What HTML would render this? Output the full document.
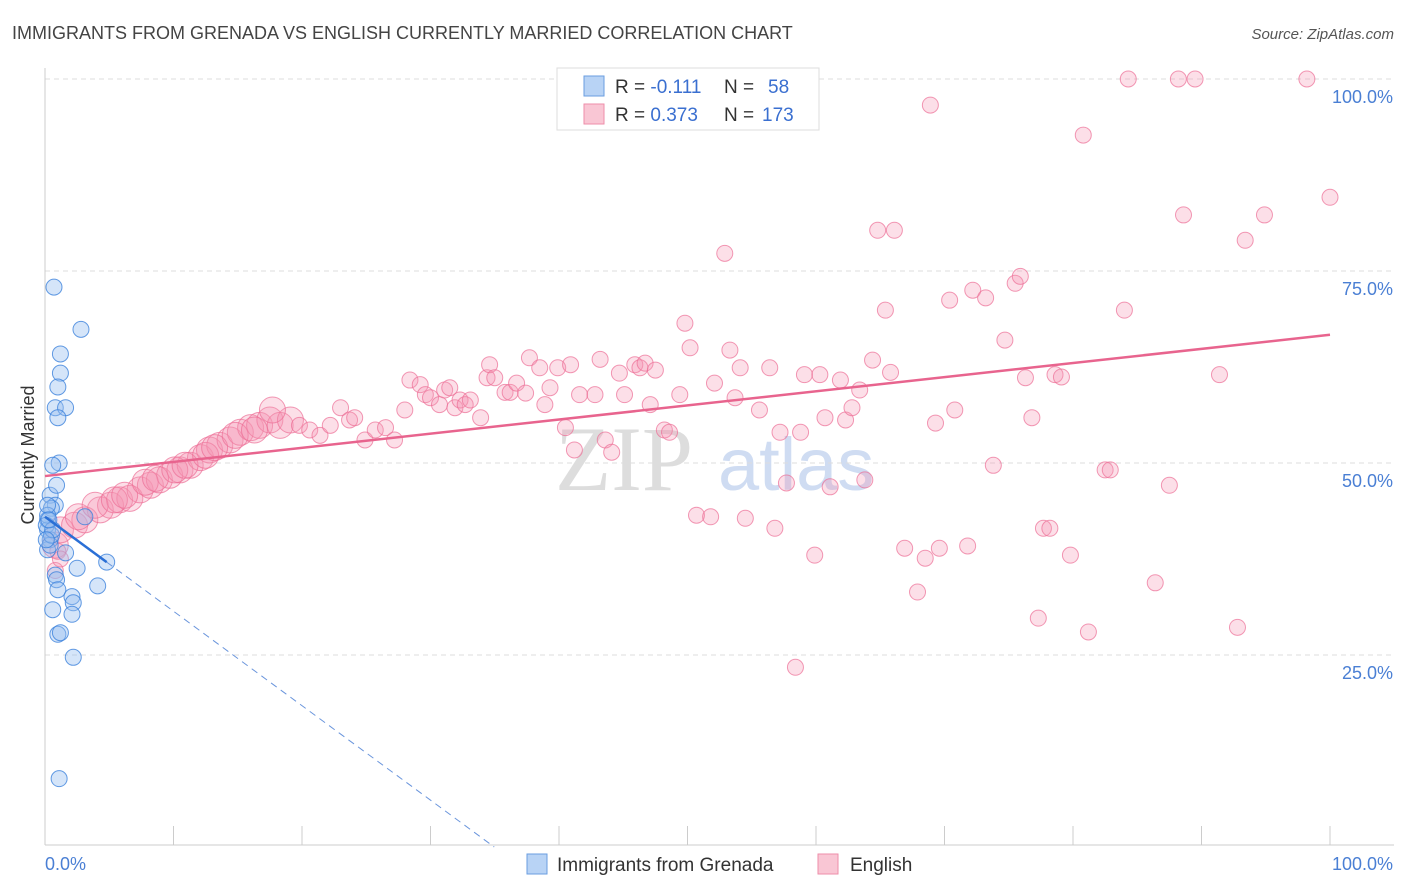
<!DOCTYPE html>
<html><head><meta charset="utf-8">
<style>
body{margin:0;background:#fff;font-family:"Liberation Sans",sans-serif;}
#c{position:relative;width:1406px;height:892px;overflow:hidden;}
</style></head><body>
<div id="c">
<svg id="s" width="1406" height="892" xmlns="http://www.w3.org/2000/svg">
<text x="12" y="39" font-size="18" fill="#444">IMMIGRANTS FROM GRENADA VS ENGLISH CURRENTLY MARRIED CORRELATION CHART</text>
<text x="1394" y="39" font-size="15" fill="#555" font-style="italic" text-anchor="end">Source: ZipAtlas.com</text>
<text x="555" y="490" font-size="92" fill="#ddd" font-family="Liberation Serif,serif">ZIP</text>
<text x="718" y="490" font-size="74" fill="#cfdcf2">atlas</text>
<g id="grid"></g>
<g id="axes"></g>
<g id="pts"></g>
<g id="trend"></g>
<text transform="translate(34,455) rotate(-90)" font-size="18" fill="#333" text-anchor="middle">Currently Married</text>
<g>
<rect x="557" y="68" width="262" height="62" fill="#fff" stroke="#ddd"/>
<rect x="584" y="76" width="20" height="20" fill="#b8d3f5" stroke="#6a9ee0"/>
<rect x="584" y="104" width="20" height="20" fill="#f9c6d4" stroke="#ee8eaa"/>
<text x="615" y="93" font-size="19" fill="#333">R = <tspan fill="#3a6fd0">-0.111</tspan><tspan x="724">N = </tspan><tspan x="768" fill="#3a6fd0">58</tspan></text>
<text x="615" y="121" font-size="19" fill="#333">R = <tspan fill="#3a6fd0">0.373</tspan><tspan x="724">N = </tspan><tspan x="762" fill="#3a6fd0">173</tspan></text>
</g>
<g>
<rect x="527" y="854" width="20" height="20" fill="#b8d3f5" stroke="#6a9ee0"/>
<text x="557" y="871" font-size="19" fill="#333">Immigrants from Grenada</text>
<rect x="818" y="854" width="20" height="20" fill="#f9c6d4" stroke="#ee8eaa"/>
<text x="850" y="871" font-size="19" fill="#333">English</text>
</g>
</svg>
</div>
<script>
const yTicks=[25,50,75,100];
const yTickLabels=["25.0%","50.0%","75.0%","100.0%"];
const xTicks=[0,10,20,30,40,50,60,70,80,90,100];
const xEndLabels=["0.0%","100.0%"];
const blueX=[0.7,2.8,1.2,1.2,1.0,0.8,1.6,1.0,1.1,0.6,0.4,0.9,0.8,0.5,0.2,0.2,0.4,0.2,1.6,3.1,0.8,0.9,2.5,4.8,4.1,1.0,2.1,2.2,2.1,0.6,1.0,1.2,2.2,1.1,0.2,0.1,0.4,0.5,0.2,0.6,0.1,0.3];
const blueY=[72.9,67.4,64.2,61.7,59.9,57.2,57.2,55.9,50.0,49.7,45.8,47.1,44.5,44.1,42.6,41.3,40.0,38.7,38.3,43.0,35.4,34.8,36.3,37.1,34.0,33.5,32.6,31.8,30.3,30.9,27.7,27.9,24.7,8.9,43.2,41.9,39.3,40.6,44.5,41.3,40.0,42.6];
const pinkX=[0.8,1.2,2.3,3.1,4.3,5.1,5.8,6.6,7.4,8.2,8.9,9.7,10.5,11.3,12.1,12.8,13.6,14.4,15.2,16.0,16.7,17.5,18.3,19.1,2.6,3.9,5.4,6.2,7.8,8.6,10.1,10.9,12.5,13.2,14.8,16.3,17.7,19.8,20.6,21.4,22.2,23.0,23.7,24.1,24.9,25.7,26.5,27.2,28.0,28.4,29.2,29.6,30.0,30.7,31.1,31.5,31.9,32.3,32.7,33.1,33.9,34.4,34.6,35.0,35.8,36.2,36.7,37.4,37.7,38.5,38.9,39.3,39.9,40.5,40.9,41.2,41.6,42.8,43.2,43.6,44.1,44.7,45.1,45.9,46.3,46.7,47.1,47.5,48.2,48.6,49.4,49.8,50.2,50.7,51.8,52.1,52.9,53.3,53.7,54.1,54.5,55.6,56.4,56.8,57.2,57.7,58.4,58.8,59.1,59.9,60.3,60.7,61.1,61.9,62.3,62.8,63.4,63.8,64.4,64.8,65.4,65.8,66.1,66.9,67.9,68.5,68.9,69.3,69.6,70.4,70.8,71.8,72.2,73.2,73.8,74.7,75.5,75.9,76.3,76.8,77.3,77.7,78.2,78.6,79.1,79.8,80.8,81.2,82.5,82.9,84.0,84.3,86.4,87.5,88.2,88.6,89.5,91.4,92.8,93.4,94.9,98.2,100,0.8,1.0,1.2];
const pinkY=[39.3,41.3,41.9,42.6,43.9,44.5,45.2,45.4,46.5,47.1,47.8,48.4,49.1,49.7,50.7,51.7,52.3,53.0,54.0,54.6,54.9,55.6,54.9,55.6,43.0,44.5,45.2,45.8,47.5,48.0,49.1,49.7,51.0,52.0,53.6,54.3,56.9,54.9,54.3,53.6,54.9,57.2,55.6,55.9,53.0,54.3,54.6,53.0,56.9,60.8,60.2,58.9,58.5,57.6,59.5,59.8,57.2,58.2,57.6,58.2,55.9,61.1,62.8,61.1,59.2,59.2,60.4,59.1,63.7,62.4,57.6,59.8,62.4,54.6,62.8,51.7,58.9,58.9,63.5,53.0,51.4,61.7,58.9,62.8,62.4,63.0,57.6,62.1,54.3,54.0,58.9,68.2,65.0,43.2,43.0,60.4,77.3,64.7,58.5,62.4,42.8,56.9,62.4,41.5,54.0,47.4,23.4,54.0,61.5,38.0,61.5,55.9,46.9,60.8,55.6,57.2,59.5,47.8,63.4,80.3,69.9,61.8,80.3,38.9,33.2,37.6,96.6,55.2,38.9,71.2,56.9,39.2,72.5,71.5,49.7,66.0,73.4,74.3,61.1,55.9,29.8,41.5,41.5,61.5,61.2,38.0,92.7,28.0,49.1,49.1,69.9,100,34.4,47.1,100,82.3,100,61.5,28.6,79.0,82.3,100,84.6,36.0,38.5,37.5];
const pinkSize=pinkX.map((x,i)=>i<37?2:1);
const blueTrend=[43.0,-1.23]; // intercept, slope per %
const blueSolidEnd=4.8;
const pinkTrend=[48.3,0.184];

const NS="http://www.w3.org/2000/svg";
const X0=45,X1=1330,Y0=847,Y100=79;
const xs=v=>X0+(X1-X0)*v/100;
const ys=v=>Y0-(Y0-Y100)*v/100;
function mk(tag,attrs,parent){const e=document.createElementNS(NS,tag);for(const k in attrs)e.setAttribute(k,attrs[k]);parent.appendChild(e);return e;}
const grid=document.getElementById('grid'),axes=document.getElementById('axes'),pts=document.getElementById('pts'),trend=document.getElementById('trend');
yTicks.forEach((t,i)=>{
 const l=mk('line',{x1:X0,x2:1394,y1:ys(t),y2:ys(t),stroke:'#ddd','stroke-dasharray':'5,4'},grid);
 
 
 const tx=mk('text',{x:1393,y:ys(t)+24,'font-size':18,fill:'#4a7fd4','text-anchor':'end'},axes);
 tx.textContent=yTickLabels[i];
 
 
});
const ax=mk('line',{x1:X0,x2:1394,y1:845,y2:845,stroke:'#ccc'},axes);


const ay=mk('line',{x1:X0,x2:X0,y1:68,y2:845,stroke:'#ccc'},axes);


xTicks.forEach(t=>{
 const l=mk('line',{x1:xs(t),x2:xs(t),y1:826,y2:845,stroke:'#ccc'},axes);
 
 
});
[[0,'start',45],[100,'end',1393]].forEach((a,i)=>{
 const tx=mk('text',{x:a[2],y:870,'font-size':18,fill:'#4a7fd4','text-anchor':a[1]},axes);
 tx.textContent=xEndLabels[i];
 
 
});
pinkX.forEach((x,i)=>{
 const c=mk('circle',{cx:xs(x),cy:ys(pinkY[i]),r:pinkSize[i]>1?13:8,fill:'rgba(244,150,178,0.3)',stroke:'rgba(236,110,150,0.7)','stroke-width':1},pts);
 
 
});
blueX.forEach((x,i)=>{
 const c=mk('circle',{cx:xs(x),cy:ys(blueY[i]),r:8,fill:'rgba(150,190,240,0.4)',stroke:'rgba(60,130,220,0.8)','stroke-width':1},pts);
 
 
});
const bz=-blueTrend[0]/blueTrend[1];
const bd=mk('line',{x1:xs(blueSolidEnd),y1:ys(blueTrend[0]+blueTrend[1]*blueSolidEnd),x2:xs(bz),y2:ys(0),stroke:'#6a95dc','stroke-width':1,'stroke-dasharray':'7,5'},trend);


const bs=mk('line',{x1:xs(0),y1:ys(blueTrend[0]),x2:xs(blueSolidEnd),y2:ys(blueTrend[0]+blueTrend[1]*blueSolidEnd),stroke:'#2a6fd6','stroke-width':2.5},trend);


const pl=mk('line',{x1:xs(0),y1:ys(pinkTrend[0]),x2:xs(100),y2:ys(pinkTrend[0]+pinkTrend[1]*100),stroke:'#e8648e','stroke-width':2.5},trend);


</script>
</body></html>
